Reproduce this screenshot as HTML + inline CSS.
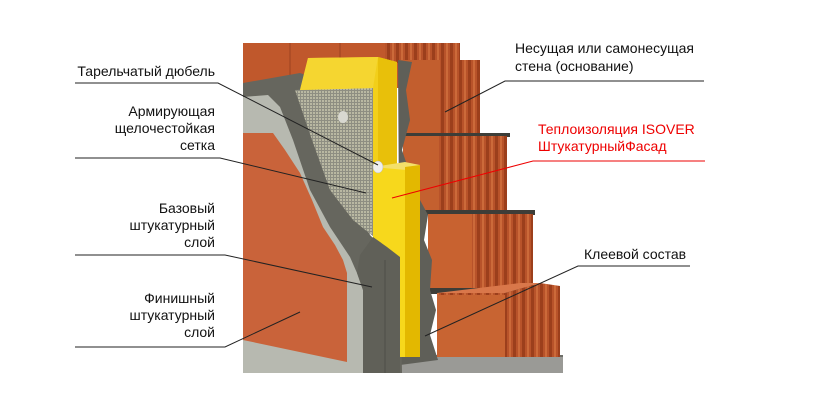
<!DOCTYPE html>
<html><head><meta charset="utf-8"><style>
html,body{margin:0;padding:0;background:#fff;}
svg{display:block;}
text{font-family:"Liberation Sans",Arial,sans-serif;font-size:14px;fill:#111;}
</style></head><body>
<svg width="823" height="412" viewBox="0 0 823 412" xmlns="http://www.w3.org/2000/svg">
<defs>
<pattern id="rib" width="9" height="10" patternUnits="userSpaceOnUse">
<rect width="9" height="10" fill="#b8532a"/>
<rect x="0" width="3" height="10" fill="#9c3f1c"/>
<rect x="5" width="2" height="10" fill="#cc6a3a"/>
</pattern>
<pattern id="mesh" width="3" height="3" patternUnits="userSpaceOnUse">
<rect width="3" height="3" fill="#b9b8a2"/>
<rect width="1" height="3" fill="#8e8e82"/>
<rect width="3" height="1" fill="#8e8e82"/>
</pattern>
</defs>
<!-- back top brick -->
<rect x="243" y="43" width="215" height="45" fill="#c0582c"/>
<rect x="385" y="43" width="75" height="20" fill="url(#rib)"/>
<line x1="290" y1="43" x2="290" y2="85" stroke="#9c4220" stroke-width="1"/>
<line x1="340" y1="43" x2="340" y2="80" stroke="#9c4220" stroke-width="1"/>
<!-- bottom base -->
<rect x="243" y="355" width="320" height="18" fill="#6e6e68"/>
<rect x="400" y="357" width="163" height="16" fill="#9a9a96"/>
<!-- right bricks -->
<rect x="400" y="60" width="80" height="75" fill="url(#rib)"/>
<rect x="400" y="60" width="40" height="75" fill="#c25e2e"/>
<rect x="400" y="133" width="110" height="4" fill="#3d3d38"/>
<rect x="403" y="136" width="104" height="75" fill="url(#rib)"/>
<rect x="403" y="136" width="36" height="75" fill="#c4602f"/>
<rect x="425" y="210" width="110" height="5" fill="#3d3d38"/>
<rect x="428" y="214" width="105" height="76" fill="url(#rib)"/>
<rect x="428" y="214" width="44" height="76" fill="#c86230"/>
<rect x="430" y="288" width="110" height="6" fill="#3d3d38"/>
<polygon points="437,293 505,293 540,283 560,286 560,357 437,357" fill="url(#rib)"/>
<rect x="437" y="295" width="68" height="62" fill="#c86432"/>
<polygon points="437,293 505,293 540,283 520,283" fill="#d9774a"/>
<!-- adhesive -->
<polygon points="398,60 412,62 406,90 410,120 402,150 412,180 420,200 428,215 424,240 432,260 430,290 436,310 430,335 438,360 400,365" fill="#5f5f58"/>
<!-- outer dark gray -->
<polygon points="243,83 300,73 320,80 340,150 370,235 385,250 400,257 402,373 243,373" fill="#66665e"/>
<!-- light gray base -->
<polygon points="243,97 268,95 280,107 293,140 310,190 330,227 350,257 357,273 363,290 363,373 243,373" fill="#b7b9b0"/>
<!-- orange finishing -->
<polygon points="243,133 273,133 285,150 300,173 312,200 323,227 335,245 343,260 347,273 347,362 243,340" fill="#c9633a"/>
<!-- mesh -->
<polygon points="295,90 373,88 374,237 353,220 330,190 312,140" fill="url(#mesh)"/>
<!-- upper yellow -->
<polygon points="308,58 378,57 397,62 397,167 373,167 373,88 300,90" fill="#f2cf1a"/>
<polygon points="378,57 397,62 397,167 378,167" fill="#e8c00a"/>
<polygon points="308,58 378,57 373,88 300,90" fill="#f5d630"/>
<!-- lower yellow -->
<rect x="373" y="167" width="33" height="190" fill="#f7d81c"/>
<polygon points="373,167 405,162 420,165 406,170" fill="#f4e06a"/>
<polygon points="405,167 420,165 420,357 405,357" fill="#e3b800"/>
<!-- dark plaster covering lower yellow -->
<polygon points="373,237 387,247 400,257 400,373 363,373 363,290 357,273 360,255" fill="#606058"/>
<line x1="385" y1="260" x2="385" y2="373" stroke="#4e4e48" stroke-width="1"/>
<!-- dowel -->
<ellipse cx="378" cy="167" rx="5" ry="6" fill="#eeeeee" stroke="#bbb" stroke-width="0.5"/>
<ellipse cx="343" cy="117" rx="5" ry="6" fill="#d8d8d0"/>

<!-- left labels -->
<g text-anchor="end">
<text x="215" y="76">Тарельчатый дюбель</text>
<text x="215" y="116">Армирующая</text>
<text x="215" y="133">щелочестойкая</text>
<text x="215" y="150">сетка</text>
<text x="215" y="213">Базовый</text>
<text x="215" y="230">штукатурный</text>
<text x="215" y="247">слой</text>
<text x="215" y="303">Финишный</text>
<text x="215" y="320">штукатурный</text>
<text x="215" y="337">слой</text>
</g>
<g stroke="#222" stroke-width="1" fill="none">
<polyline points="75,83 218,83 378,165"/>
<polyline points="75,158 220,158 366,193"/>
<polyline points="75,255 225,255 372,287"/>
<polyline points="75,347 225,347 300,312"/>
<polyline points="704,81 505,81 445,112"/>
<polyline points="690,266 578,266 425,336"/>
</g>
<polyline points="705,161 533,161 392,198" stroke="#e00" stroke-width="1" fill="none"/>
<text x="515" y="53">Несущая или самонесущая</text>
<text x="515" y="71">стена (основание)</text>
<text x="538" y="134" style="fill:#e00">Теплоизоляция ISOVER</text>
<text x="538" y="151" style="fill:#e00">ШтукатурныйФасад</text>
<text x="584" y="259">Клеевой состав</text>
</svg>
</body></html>
